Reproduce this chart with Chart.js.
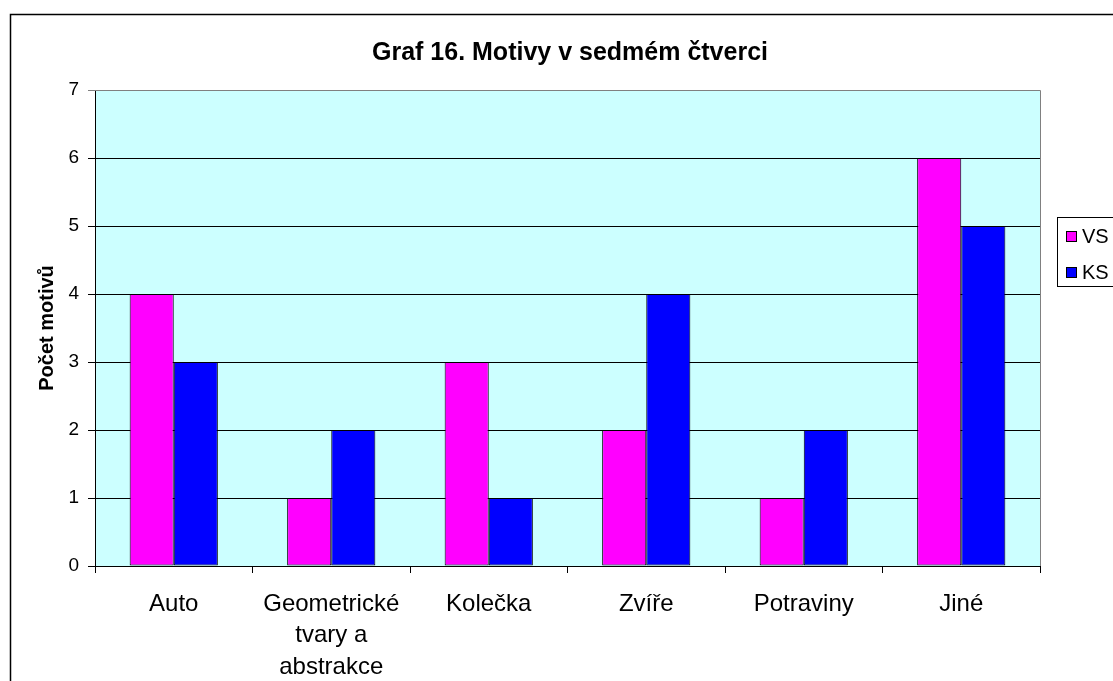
<!DOCTYPE html>
<html><head><meta charset="utf-8">
<script src="https://cdn.jsdelivr.net/npm/chart.js@4/dist/chart.umd.min.js"></script>
<style>html,body{margin:0;padding:0;background:#fff;}#wrap{width:1113px;height:681px;position:relative;}</style>
</head><body><div id="wrap"><canvas id="c" width="1113" height="681"></canvas></div>
<script>
const categories = [["Auto"], ["Geometrické","tvary a","abstrakce"], ["Kolečka"], ["Zvíře"], ["Potraviny"], ["Jiné"]];
const vsValues = [4, 1, 3, 2, 1, 6];
const ksValues = [3, 2, 1, 4, 2, 5];
const seriesNames = ["VS", "KS"];
const yTicks = [0, 1, 2, 3, 4, 5, 6, 7];
const titleText = "Graf 16. Motivy v sedmém čtverci";
const yAxisTitle = "Počet motivů";

const FONT = "'Liberation Sans', Arial, sans-serif";

const decor = {
  id: 'decor',
  beforeDraw(chart) {
    const {ctx, chartArea: a} = chart;
    ctx.save();
    ctx.fillStyle = '#fff';
    ctx.fillRect(0, 0, chart.width, chart.height);
    ctx.fillStyle = '#CCFFFF';
    ctx.fillRect(a.left, a.top, a.right - a.left, a.bottom - a.top);
    ctx.restore();
  },
  afterDraw(chart) {
    const {ctx, chartArea: a} = chart;
    ctx.save();
    // plot border right/top
    ctx.strokeStyle = '#808080';
    ctx.lineWidth = 1;
    ctx.beginPath();
    ctx.moveTo(a.left, a.top + 0.5); ctx.lineTo(a.right + 0.5, a.top + 0.5);
    ctx.lineTo(a.right + 0.5, a.bottom);
    ctx.stroke();
    // outer frame
    ctx.strokeStyle = '#000';
    ctx.lineWidth = 1.5;
    ctx.strokeRect(10.5, 14.5, 1300, 900);
    // title
    ctx.fillStyle = '#000';
    ctx.font = "bold 25px " + FONT;
    ctx.textAlign = 'center';
    ctx.textBaseline = 'alphabetic';
    ctx.fillText(titleText, 570, 60);
    // y axis title
    ctx.save();
    ctx.translate(53, (a.top + a.bottom) / 2);
    ctx.rotate(-Math.PI / 2);
    ctx.font = "bold 20px " + FONT;
    ctx.fillText(yAxisTitle, 0, 0);
    ctx.restore();
    // legend
    const lx = 1057, ly = 217;
    ctx.fillStyle = '#fff';
    ctx.fillRect(lx, ly, 80, 69);
    ctx.strokeStyle = '#000';
    ctx.lineWidth = 1;
    ctx.strokeRect(lx + 0.5, ly + 0.5, 80, 69);
    ctx.font = "20px " + FONT;
    ctx.textAlign = 'left';
    ctx.textBaseline = 'alphabetic';
    chart.data.datasets.forEach((ds, i) => {
      const cy = 236 + i * 36;
      ctx.fillStyle = ds.backgroundColor;
      ctx.fillRect(1066, cy - 5, 11, 11);
      ctx.strokeStyle = '#000';
      ctx.strokeRect(1066.5, cy - 4.5, 10, 10);
      ctx.fillStyle = '#000';
      ctx.fillText(ds.label, 1082, cy + 7);
    });
    ctx.restore();
  }
};

new Chart(document.getElementById('c'), {
  type: 'bar',
  data: {
    labels: categories,
    datasets: [
      {label: seriesNames[0], data: vsValues, backgroundColor: '#FF00FF', borderColor: '#000', borderWidth: 1, borderSkipped: false},
      {label: seriesNames[1], data: ksValues, backgroundColor: '#0000FF', borderColor: '#000', borderWidth: 1, borderSkipped: false}
    ]
  },
  options: {
    responsive: false,
    animation: false,
    devicePixelRatio: 1,
    layout: {padding: {left: 0, top: 90, right: 1113 - 1040, bottom: 0}},
    plugins: {legend: {display: false}, title: {display: false}, tooltip: {enabled: false}},
    datasets: {bar: {categoryPercentage: 0.56, barPercentage: 1}},
    scales: {
      x: {
        afterFit(s) { s.height = 681 - 566; },
        grid: {offset: true, drawOnChartArea: false, drawTicks: true, tickLength: 7, color: '#000'},
        border: {color: '#000', width: 1},
        ticks: {color: '#000', font: {family: FONT, size: 24, lineHeight: 1.3}, padding: 16, maxRotation: 0, autoSkip: false}
      },
      y: {
        min: 0, max: 7,
        afterFit(s) { s.width = 95; },
        afterBuildTicks(s) { s.ticks = yTicks.map(v => ({value: v})); },
        grid: {color: (c) => c.tick && c.tick.value === 7 ? '#808080' : '#000', tickLength: 7, drawTicks: true},
        border: {color: '#000', width: 1},
        ticks: {color: '#000', font: {family: FONT, size: 19}, padding: 9, stepSize: 1}
      }
    }
  },
  plugins: [decor]
});
</script></body></html>
